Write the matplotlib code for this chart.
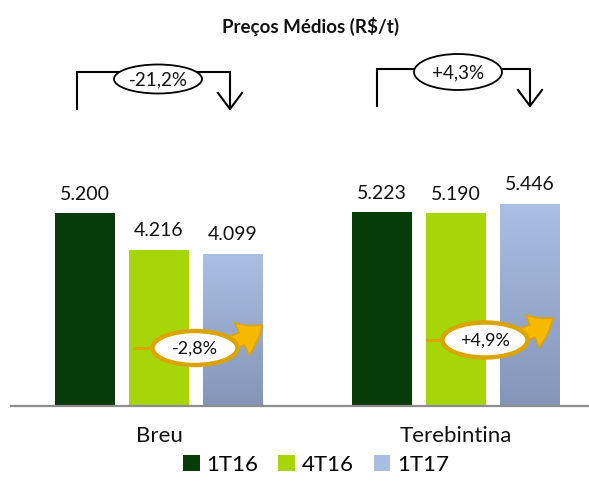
import matplotlib
matplotlib.use("Agg")
import matplotlib.pyplot as plt
import numpy as np
from matplotlib.patches import Ellipse, FancyArrowPatch, Patch
from matplotlib.colors import LinearSegmentedColormap

plt.rcParams['font.family'] = ['Lato', 'DejaVu Sans']

# data
products = ["Breu", "Terebintina"]
periods = ["1T16", "4T16", "1T17"]
prices = {
    "1T16": [5200, 5223],
    "4T16": [4216, 5190],
    "1T17": [4099, 5446],
}
value_labels = {
    "1T16": ["5.200", "5.223"],
    "4T16": ["4.216", "5.190"],
    "1T17": ["4.099", "5.446"],
}
yoy_change = ["-21,2%", "+4,3%"]   # 1T17 vs 1T16
qoq_change = ["-2,8%", "+4,9%"]    # 1T17 vs 4T16

colors = {"1T16": "#073b07", "4T16": "#a6d608", "1T17": "#a9bde2"}

W, H = 589, 490
fig = plt.figure(figsize=(W / 100, H / 100), dpi=100)

# main axes: baseline at pixel 406
ax = fig.add_axes([0, 84 / H, 1, 406 / H])
px_per_unit = 193 / 5200
group_px = 297.0
xlim = (-159 / group_px, (W - 159) / group_px)
ylim = (0, 406 / px_per_unit)
ax.axis("off")

x = np.arange(len(products))
width = 60 / group_px
step = 74 / group_px

blue_cmap = LinearSegmentedColormap.from_list("b", ["#8495b8", "#aabfe4"])

for i, p in enumerate(periods):
    xs = x + (i - 1) * step
    bars = ax.bar(xs, prices[p], width, color=colors[p], zorder=2)
    for b, lab in zip(bars, value_labels[p]):
        ax.text(b.get_x() + b.get_width() / 2, b.get_height() + 280, lab,
                ha="center", va="bottom", fontsize=14, color="#111111")
    if p == "1T17":
        grad = np.linspace(0, 1, 100).reshape(-1, 1)
        for b in bars:
            b.set_facecolor("none")
            im = ax.imshow(grad, cmap=blue_cmap, origin="lower", aspect="auto",
                           extent=[b.get_x(), b.get_x() + b.get_width(), 0, b.get_height()],
                           zorder=2)
            im.set_clip_path(b)
ax.set_xlim(*xlim)
ax.set_ylim(*ylim)

# baseline
ax.plot([xlim[0] + 11 / W * (xlim[1] - xlim[0]), xlim[1]],
        [0, 0], color="#8c8c8c", lw=1.6, zorder=3, clip_on=False)

for i, name in enumerate(products):
    ax.text(x[i], -550, name, ha="center", va="top", fontsize=16, color="#111111")

# overlay in pixel coordinates for the annotations
ov = fig.add_axes([0, 0, 1, 1], zorder=5)
ov.set_xlim(0, W)
ov.set_ylim(H, 0)
ov.axis("off")
ov.patch.set_alpha(0)

ov.text(311, 26, "Preços Médios (R$/t)", ha="center", va="center",
        fontsize=13.5, fontweight="bold", color="#111111")

# brackets (1T16 -> 1T17)
brackets = [
    dict(xl=77, xr=230, yl=72, ybot=109, cx=158, cy=79, w=88, h=29),
    dict(xl=377, xr=530, yl=69, ybot=106, cx=458, cy=72, w=88, h=36),
]
for br, txt in zip(brackets, yoy_change):
    lw = 1.5
    ov.plot([br["xl"], br["xl"], br["cx"]], [br["ybot"], br["yl"], br["yl"]],
            color="black", lw=lw, solid_joinstyle="miter")
    ov.plot([br["cx"], br["xr"], br["xr"]], [br["yl"], br["yl"], br["ybot"]],
            color="black", lw=lw, solid_joinstyle="miter")
    ov.plot([br["xr"] - 12, br["xr"], br["xr"] + 12],
            [br["ybot"] - 16, br["ybot"], br["ybot"] - 16], color="black", lw=lw)
    ov.add_patch(Ellipse((br["cx"], br["cy"]), br["w"], br["h"],
                         facecolor="white", edgecolor="black", lw=1.3, zorder=3))
    ov.text(br["cx"], br["cy"] + 1, txt, ha="center", va="center",
            fontsize=13.5, color="#111111", zorder=4)

# orange ellipses (4T16 -> 1T17)
orange = "#dca400"
ovals = [
    dict(x0=135, cx=195, cy=348, w=85, h=34, tip=(264, 323)),
    dict(x0=427, cx=485, cy=340, w=85, h=35, tip=(555, 316)),
]
for ov_d, txt in zip(ovals, qoq_change):
    cx, cy = ov_d["cx"], ov_d["cy"]
    ov.plot([ov_d["x0"], cx - ov_d["w"] / 2], [cy, cy], color=orange, lw=2.2, zorder=3)
    arr = FancyArrowPatch((cx + ov_d["w"] / 2 - 8, cy - 5), ov_d["tip"],
                          arrowstyle="simple,head_width=1.6,head_length=1.1,tail_width=0.6",
                          mutation_scale=16, facecolor="#f7b900", edgecolor=orange,
                          lw=1.2, zorder=3, connectionstyle="arc3,rad=0.15")
    ov.add_patch(arr)
    ov.add_patch(Ellipse((cx, cy), ov_d["w"], ov_d["h"], facecolor="white",
                         edgecolor=orange, lw=3.2, zorder=4))
    ov.text(cx, cy + 1, txt, ha="center", va="center", fontsize=13,
            color="#111111", zorder=5)

handles = [Patch(facecolor=colors[p], edgecolor="none") for p in periods]
fig.legend(handles, periods, loc="center", bbox_to_anchor=(316 / W, 1 - 465 / H),
           ncol=3, frameon=False, fontsize=16, handlelength=0.75, handleheight=0.75,
           handletextpad=0.3, columnspacing=0.9)

fig.savefig("out.png", dpi=100)
